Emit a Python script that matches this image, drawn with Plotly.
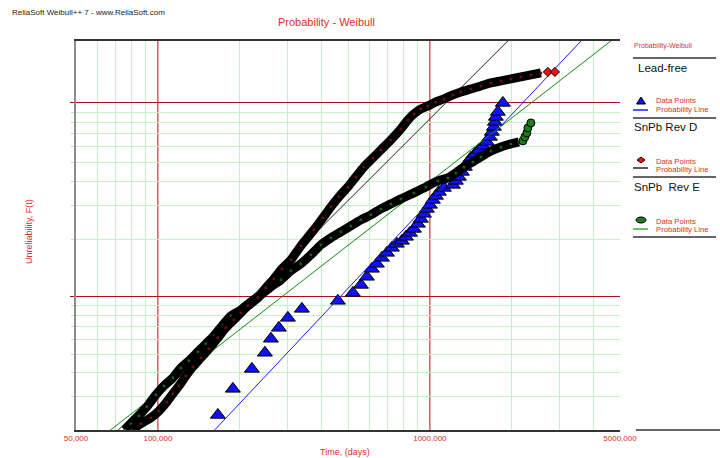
import numpy as np
import plotly.graph_objects as go

# ---------------- data ----------------
lead_free_time = [166200, 188700, 221600, 247400, 260300, 278500, 300600, 338400, 459000, 521100,
                  557700, 586700, 612100, 638500, 666200, 695000, 725000, 756300, 789000, 816200,
                  844300, 873400, 903500, 926700, 950600, 975000, 1000000, 1025700, 1052100, 1079200,
                  1125800, 1215000, 1246200, 1278300, 1311200, 1344900, 1379500, 1415000, 1463700, 1514100,
                  1566300, 1620200, 1661900, 1690300, 1719100, 1733700, 1748500, 1778300, 1855200]
lead_free_unrel = [0.00240, 0.00329, 0.00419, 0.00509, 0.00603, 0.00688, 0.00776, 0.00865, 0.00953, 0.01049,
                   0.01155, 0.01273, 0.01401, 0.01488, 0.01599, 0.01698, 0.01804, 0.01892, 0.01961, 0.02058,
                   0.02158, 0.02264, 0.02404, 0.02552, 0.02710, 0.02876, 0.03017, 0.03202, 0.03358, 0.03522,
                   0.03693, 0.03828, 0.04013, 0.04209, 0.04465, 0.04737, 0.05025, 0.05268, 0.05523, 0.05789,
                   0.06067, 0.06358, 0.06742, 0.07147, 0.07575, 0.08029, 0.08509, 0.09015, 0.10000]

snpb_rev_d_time = [80200, 86600, 94200, 100900, 107900, 113500, 119500, 126700, 134500, 143900,
                   154000, 166200, 177800, 190300, 201900, 214200, 233200, 249500, 267000, 285700,
                   308300, 335500, 374600, 404200, 432600, 462900, 499500, 534500, 572000, 617300,
                   660500, 718900, 782400, 830200, 873400, 926700, 983300, 1052100, 1125800, 1215000,
                   1300100, 1415000, 1540000, 1676000, 1824100, 1985200, 2160600, 2351500, 2559300,
                   2715500, 2881200]
snpb_rev_d_unrel = [0.00200, 0.00216, 0.00232, 0.00252, 0.00281, 0.00310, 0.00341, 0.00385, 0.00430, 0.00479,
                    0.00534, 0.00610, 0.00688, 0.00758, 0.00825, 0.00897, 0.00988, 0.01115, 0.01242, 0.01401,
                    0.01561, 0.01847, 0.02238, 0.02583, 0.02946, 0.03319, 0.03737, 0.04209, 0.04737, 0.05268,
                    0.05789, 0.06509, 0.07402, 0.08218, 0.08810, 0.09333, 0.09661, 0.10115, 0.10469, 0.10959,
                    0.11341, 0.11735, 0.12142, 0.12562, 0.12849, 0.13143, 0.13442, 0.13748, 0.14060,
                    0.14219, 0.14219]

snpb_rev_e_time = [75600, 79600, 85100, 91100, 98300, 105200, 113500, 121500, 130000, 140300,
                   150100, 160700, 173400, 185500, 201900, 219700, 239200, 260300, 283300, 308300,
                   335500, 365200, 397500, 432600, 470800, 512400, 557700, 606900, 660500, 718900,
                   782400, 873400, 966800, 1070100, 1164600, 1246200, 1333600, 1439100, 1540000, 1676000,
                   1824100, 1985200, 2124300, 2197500, 2235000, 2273200, 2292500, 2351500]
snpb_rev_e_unrel = [0.00200, 0.00216, 0.00238, 0.00265, 0.00306, 0.00341, 0.00376, 0.00424, 0.00462, 0.00515,
                    0.00567, 0.00625, 0.00713, 0.00795, 0.00855, 0.00942, 0.01025, 0.01128, 0.01227, 0.01368,
                    0.01488, 0.01658, 0.01869, 0.02033, 0.02185, 0.02347, 0.02522, 0.02678, 0.02876, 0.03052,
                    0.03240, 0.03480, 0.03737, 0.04013, 0.04159, 0.04413, 0.04737, 0.05025, 0.05331, 0.05721,
                    0.05996, 0.06211, 0.06358, 0.06434, 0.06742, 0.07065, 0.07489, 0.07936]

# Weibull probability lines: (beta, eta [days])
lead_free_fit = (1.52, 9.64e6)
snpb_rev_d_fit = (1.43, 5.52e6)
snpb_rev_e_fit = (1.113, 1.78e7)

time_range = [5e4, 5e6]
unrel_range = [0.002, 0.2]
x_tick_values = [5e4, 1e5, 1e6, 5e6]
x_tick_labels = ["50,000", "100,000", "1000,000", "5000,000"]
x_major_grid = [1e5, 1e6]
x_minor_grid = [6e4, 7e4, 8e4, 9e4, 2e5, 3e5, 4e5, 5e5, 6e5, 7e5, 8e5, 9e5, 2e6, 3e6, 4e6]
y_major_grid = [0.01, 0.1]
y_minor_grid = [0.003, 0.004, 0.005, 0.006, 0.007, 0.008, 0.009,
                0.02, 0.03, 0.04, 0.05, 0.06, 0.07, 0.08, 0.09]

# ---------------- styling ----------------
FONT = "Liberation Sans"
RED_TXT = "#d8302c"
RED_GRID = "#a81414"
GREEN_GRID = "#c4f2c4"


def weibull_y(F):
    F = np.asarray(F, dtype=float)
    return np.log(-np.log(1.0 - F))


def fit_line(fit):
    beta, eta = fit
    t = np.geomspace(time_range[0], time_range[1], 80)
    return t, beta * (np.log(t) - np.log(eta))


fig = go.Figure()

# Lead-free data points
fig.add_trace(go.Scatter(x=lead_free_time, y=weibull_y(lead_free_unrel), mode="markers",
                         marker=dict(symbol="triangle-up", size=13, color="#1010f0",
                                     line=dict(color="black", width=1))))

# probability lines
for fit, col in [(lead_free_fit, "#1a1aff"), (snpb_rev_e_fit, "#138a13"), (snpb_rev_d_fit, "#222222")]:
    t, y = fit_line(fit)
    fig.add_trace(go.Scatter(x=t, y=y, mode="lines", line=dict(color=col, width=1)))


def add_band(times, unrel, n_tail, speck, tail_color, tail_symbol, tail_size):
    n = len(times) - n_tail
    fig.add_trace(go.Scatter(x=times[:n], y=weibull_y(unrel[:n]), mode="lines+markers",
                             line=dict(color="black", width=9, shape="spline", smoothing=0.8),
                             marker=dict(size=3, color=speck)))
    fig.add_trace(go.Scatter(x=times[n:], y=weibull_y(unrel[n:]), mode="markers",
                             marker=dict(symbol=tail_symbol, size=tail_size, color=tail_color,
                                         line=dict(color="black", width=1))))


add_band(snpb_rev_e_time, snpb_rev_e_unrel, 5, "#1f5a1f", "#1f7a1f", "circle", 8)
add_band(snpb_rev_d_time, snpb_rev_d_unrel, 2, "#6a1010", "#ee1111", "diamond", 7)

# ---------------- layout ----------------
L, T, W, H = 76, 41, 544, 389


def xp(px):
    return (px - L) / W


def yp(py):
    return (T + H - py) / H


shapes = []
for v in x_major_grid:
    shapes.append(dict(type="line", xref="x", yref="paper", x0=v, x1=v, y0=0, y1=1,
                       line=dict(color=RED_GRID, width=1), layer="between"))

# legend panel
for py in [58, 118, 177, 237]:
    shapes.append(dict(type="line", xref="paper", yref="paper", x0=xp(633), x1=xp(716),
                       y0=yp(py), y1=yp(py), line=dict(color="#333333", width=1.5)))
shapes.append(dict(type="line", xref="paper", yref="paper", x0=xp(636), x1=xp(720),
                   y0=yp(430), y1=yp(430), line=dict(color="#333333", width=1.5)))
for py, col, w in [(110, "#1a1aff", 1.5), (168, "#222222", 1.5), (229, "#6cbf6c", 2)]:
    shapes.append(dict(type="line", xref="paper", yref="paper", x0=xp(633), x1=xp(648),
                       y0=yp(py), y1=yp(py), line=dict(color=col, width=w)))
shapes.append(dict(type="path", xref="paper", yref="paper", xsizemode="pixel", ysizemode="pixel",
                   xanchor=xp(641), yanchor=yp(101), path="M -4.5,-3 L 4.5,-3 L 0,4 Z",
                   fillcolor="#1010f0", line=dict(color="black", width=1)))
shapes.append(dict(type="path", xref="paper", yref="paper", xsizemode="pixel", ysizemode="pixel",
                   xanchor=xp(641), yanchor=yp(160), path="M -4,0 L 0,3 L 4,0 L 0,-3 Z",
                   fillcolor="#ee1111", line=dict(color="black", width=1)))
shapes.append(dict(type="circle", xref="paper", yref="paper", xsizemode="pixel", ysizemode="pixel",
                   xanchor=xp(641), yanchor=yp(220), x0=-5, x1=5, y0=-3, y1=3,
                   fillcolor="#1f7a1f", line=dict(color="black", width=1)))

ann = []


def text(s, px, py, size, color, xanchor="left", angle=0):
    ann.append(dict(text=s, x=xp(px), y=yp(py), xref="paper", yref="paper", showarrow=False,
                    xanchor=xanchor, yanchor="middle", textangle=angle,
                    font=dict(family=FONT, size=size, color=color)))


text("ReliaSoft Weibull++ 7 - www.ReliaSoft.com", 10, 13, 8, "#222222")
text("Probability - Weibull", 326, 22, 11, RED_TXT, "center")
text("Time, (days)", 345, 452, 9, RED_TXT, "center")
text("Unreliability, F(t)", 29, 232, 9, RED_TXT, "center", -90)
text("Probability-Weibull", 632, 46, 7, RED_TXT)
text("Lead-free", 636, 68, 11.5, "#111111")
text("SnPb Rev D", 632, 127, 11.5, "#111111")
text("SnPb\u00a0 Rev E", 632, 187, 11.5, "#111111")
for py in [101, 161, 221]:
    text("Data Points", 654, py, 7.7, RED_TXT)
    text("Probability Line", 654, py + 8.5, 7.7, RED_TXT)

fig.update_layout(
    width=720, height=458,
    margin=dict(l=L, r=720 - L - W, t=T, b=458 - T - H, pad=0),
    paper_bgcolor="white", plot_bgcolor="white",
    showlegend=False, hovermode=False,
    shapes=shapes, annotations=ann,
    xaxis=dict(type="log", range=[np.log10(time_range[0]), np.log10(time_range[1])],
               tickmode="array", tickvals=x_tick_values, ticktext=x_tick_labels,
               tickfont=dict(family=FONT, size=8, color=RED_TXT), ticks="",
               showgrid=False, zeroline=False,
               showline=True, linecolor="#333333", linewidth=1.5, mirror=True,
               minor=dict(tickmode="array", tickvals=x_minor_grid, showgrid=True,
                          gridcolor=GREEN_GRID, gridwidth=1, ticks="")),
    yaxis=dict(range=[float(weibull_y(unrel_range[0])), float(weibull_y(unrel_range[1]))],
               tickmode="array", tickvals=weibull_y(y_major_grid), showticklabels=False,
               ticks="outside", ticklen=4, tickcolor=RED_GRID,
               showgrid=True, gridcolor=RED_GRID, gridwidth=1, zeroline=False,
               showline=True, linecolor="#8c8c8c", linewidth=2,
               minor=dict(tickmode="array", tickvals=weibull_y(y_minor_grid), showgrid=True,
                          gridcolor=GREEN_GRID, gridwidth=1, ticks="outside", ticklen=3,
                          tickcolor="#b0e8b0")),
)

fig.write_html("out.html", config={"displayModeBar": False},
               post_script="document.body.style.margin='0';document.body.style.overflow='hidden';")
